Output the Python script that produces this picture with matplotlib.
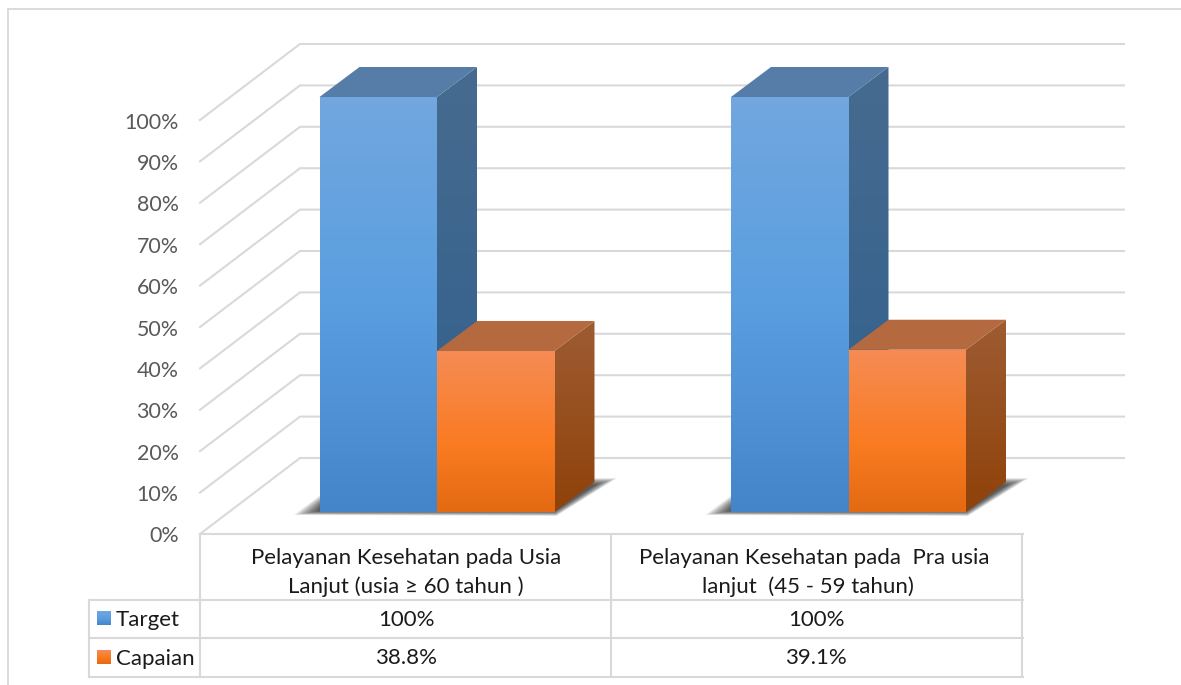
import numpy as np
import matplotlib
matplotlib.use("Agg")
import matplotlib.pyplot as plt
from matplotlib.colors import LinearSegmentedColormap as LSC
from matplotlib.patches import Polygon

# ---- data ----
categories = [["Pelayanan Kesehatan pada Usia", "Lanjut (usia \u2265 60 tahun )"],
              ["Pelayanan Kesehatan pada  Pra usia", "lanjut  (45 - 59 tahun)"]]
series_names = ["Target", "Capaian"]
target = [100, 100]
capaian = [38.8, 39.1]
table_target = ["100%", "100%"]
table_capaian = ["38.8%", "39.1%"]
y_ticks = [0, 10, 20, 30, 40, 50, 60, 70, 80, 90, 100]

# ---- layout (pixels) ----
W, H = 1181, 685
plt.rcParams['font.family'] = ['Lato', 'DejaVu Sans']
GRID = '#D9D9D9'
fig = plt.figure(figsize=(W / 100, H / 100), dpi=100, facecolor='white')

# overlay in pixel space for the frame and table
pix = fig.add_axes([0, 0, 1, 1], zorder=1)
pix.set_xlim(0, W); pix.set_ylim(H, 0); pix.axis('off')
pix.patch.set_alpha(0)

# chart axes: x in category index, y in percent
ax = fig.add_axes([0, 0, 1, 1], zorder=2)
ax.axis('off'); ax.patch.set_alpha(0)
CAT_PX = 411.5       # px per category
PCT_PX = 4.15        # px per percent
X0_PX, Y0_PX = 437, 512   # category 0 bar boundary, baseline
xlim = (-X0_PX / CAT_PX, (W - X0_PX) / CAT_PX)
ylim = ((Y0_PX - H) / PCT_PX, Y0_PX / PCT_PX)

BAR_W = 117.5 / CAT_PX
DX, DY = 40 / CAT_PX, 30 / PCT_PX

def gradient(a, poly, colors, stops, box, z):
    cm = LSC.from_list('g', list(zip(stops, colors)))
    img = a.imshow(np.linspace(1, 0, 256)[:, None], cmap=cm, vmin=0, vmax=1, aspect='auto',
                   extent=box, origin='lower', interpolation='bilinear', zorder=z)
    patch = Polygon(poly, closed=True, transform=a.transData, fc='none', ec='none')
    a.add_patch(patch)
    img.set_clip_path(patch)

# colour sets: front, side, top
FRONT = {"Target": ['#72A7DF', '#5A9EE0', '#4485C9'], "Capaian": ['#F58C55', '#FA7B22', '#E36A12']}
SIDE = {"Target": ['#476B90', '#2F5F8C'], "Capaian": ['#9E5C33', '#8F4209']}
TOP = {"Target": '#567CA8', "Capaian": '#B5693F'}

def shadow(i):
    left, right = i - BAR_W, i + BAR_W
    px_x, px_y = 1 / CAT_PX, 1 / PCT_PX
    n = 24
    for k in range(n):
        t = (k + 1) / n
        poly = [(left - 26 * t * px_x, (1 - 4 * t) * px_y),
                (right + 2 * t * px_x, (1 - 5 * t) * px_y),
                (right + DX + 23 * t * px_x, DY + (-3 + 7 * t) * px_y),
                (right + DX, DY + (-3 + 7 * t) * px_y),
                (left + 2 * px_x, (6 + 12 * t) * px_y)]
        ax.add_patch(Polygon(poly, closed=True, fc='black', ec='none', alpha=0.04, zorder=3))

def bar(i0, v, name, z):
    x0, x1 = i0, i0 + BAR_W
    gradient(ax, [(x0, 0), (x1, 0), (x1, v), (x0, v)], FRONT[name], [0, .58, 1] if name == "Capaian" else [0, .5, 1],
             (x0, x1, 0, v), z + 2)
    side = [(x1, 0), (x1 + DX, DY), (x1 + DX, v + DY), (x1, v)]
    gradient(ax, side, SIDE[name], [0, 1], (x1, x1 + DX, 0, v + DY), z + 1)
    ax.add_patch(Polygon([(x0, v), (x1, v), (x1 + DX, v + DY), (x0 + DX, v + DY)],
                         closed=True, fc=TOP[name], ec='none', zorder=z + 1))

# back wall / side wall gridlines
FRONT_Y, BACK_Y = 534, 458
SCALE = 4.14
for v in y_ticks:
    yf = FRONT_Y - SCALE * v
    yb = BACK_Y - SCALE * v
    pix.plot([200, 300, 1124], [yf, yb, yb], color=GRID, lw=1.5, solid_joinstyle='miter', zorder=1)
    pix.text(178.5, yf + 2.5, f"{v}%", ha='right', va='center', fontsize=15.4, color='#595959')

# marks
for i in range(len(categories)):
    shadow(i)
    bar(i - BAR_W, target[i], series_names[0], 4)
    bar(i, capaian[i], series_names[1], 8)
ax.set_xlim(*xlim); ax.set_ylim(*ylim)

# outer frame
pix.plot([8, 8], [H, 9], color=GRID, lw=1.3)
pix.plot([8, W], [9, 9], color=GRID, lw=1.3)

# table
for y, x0 in zip([534, 600, 638, 677], [200, 89, 89, 89]):
    pix.plot([x0, 1023], [y, y], color=GRID, lw=1.5, zorder=1)
for x, y0 in zip([89, 200, 611, 1022], [600, 534, 534, 534]):
    pix.plot([x, x], [y0, 677], color=GRID, lw=1.5, zorder=1)

TXT = '#1A1A1A'
FS = 16
cell_x = [406, 816]
label_x = [[406, 406], [814, 808]]
for cat, lx in zip(categories, label_x):
    for line, x, y in zip(cat, lx, [558, 587]):
        pix.text(x, y, line, ha='center', va='center', fontsize=FS, color=TXT)
for vals, y in zip([table_target, table_capaian], [620, 658]):
    for s, x in zip(vals, cell_x):
        pix.text(x, y, s, ha='center', va='center', fontsize=FS, color=TXT)

# legend keys
for name, y in zip(series_names, [611, 650]):
    gradient(pix, [(97, y), (111, y), (111, y + 14), (97, y + 14)], FRONT[name][::-1],
             [0, .5, 1], (97, 111, y, y + 14), 3)
    pix.text(116, y + 9, name, ha='left', va='center', fontsize=FS, color=TXT)
pix.set_xlim(0, W); pix.set_ylim(H, 0)

fig.savefig('out.png', dpi=100, facecolor='white')
